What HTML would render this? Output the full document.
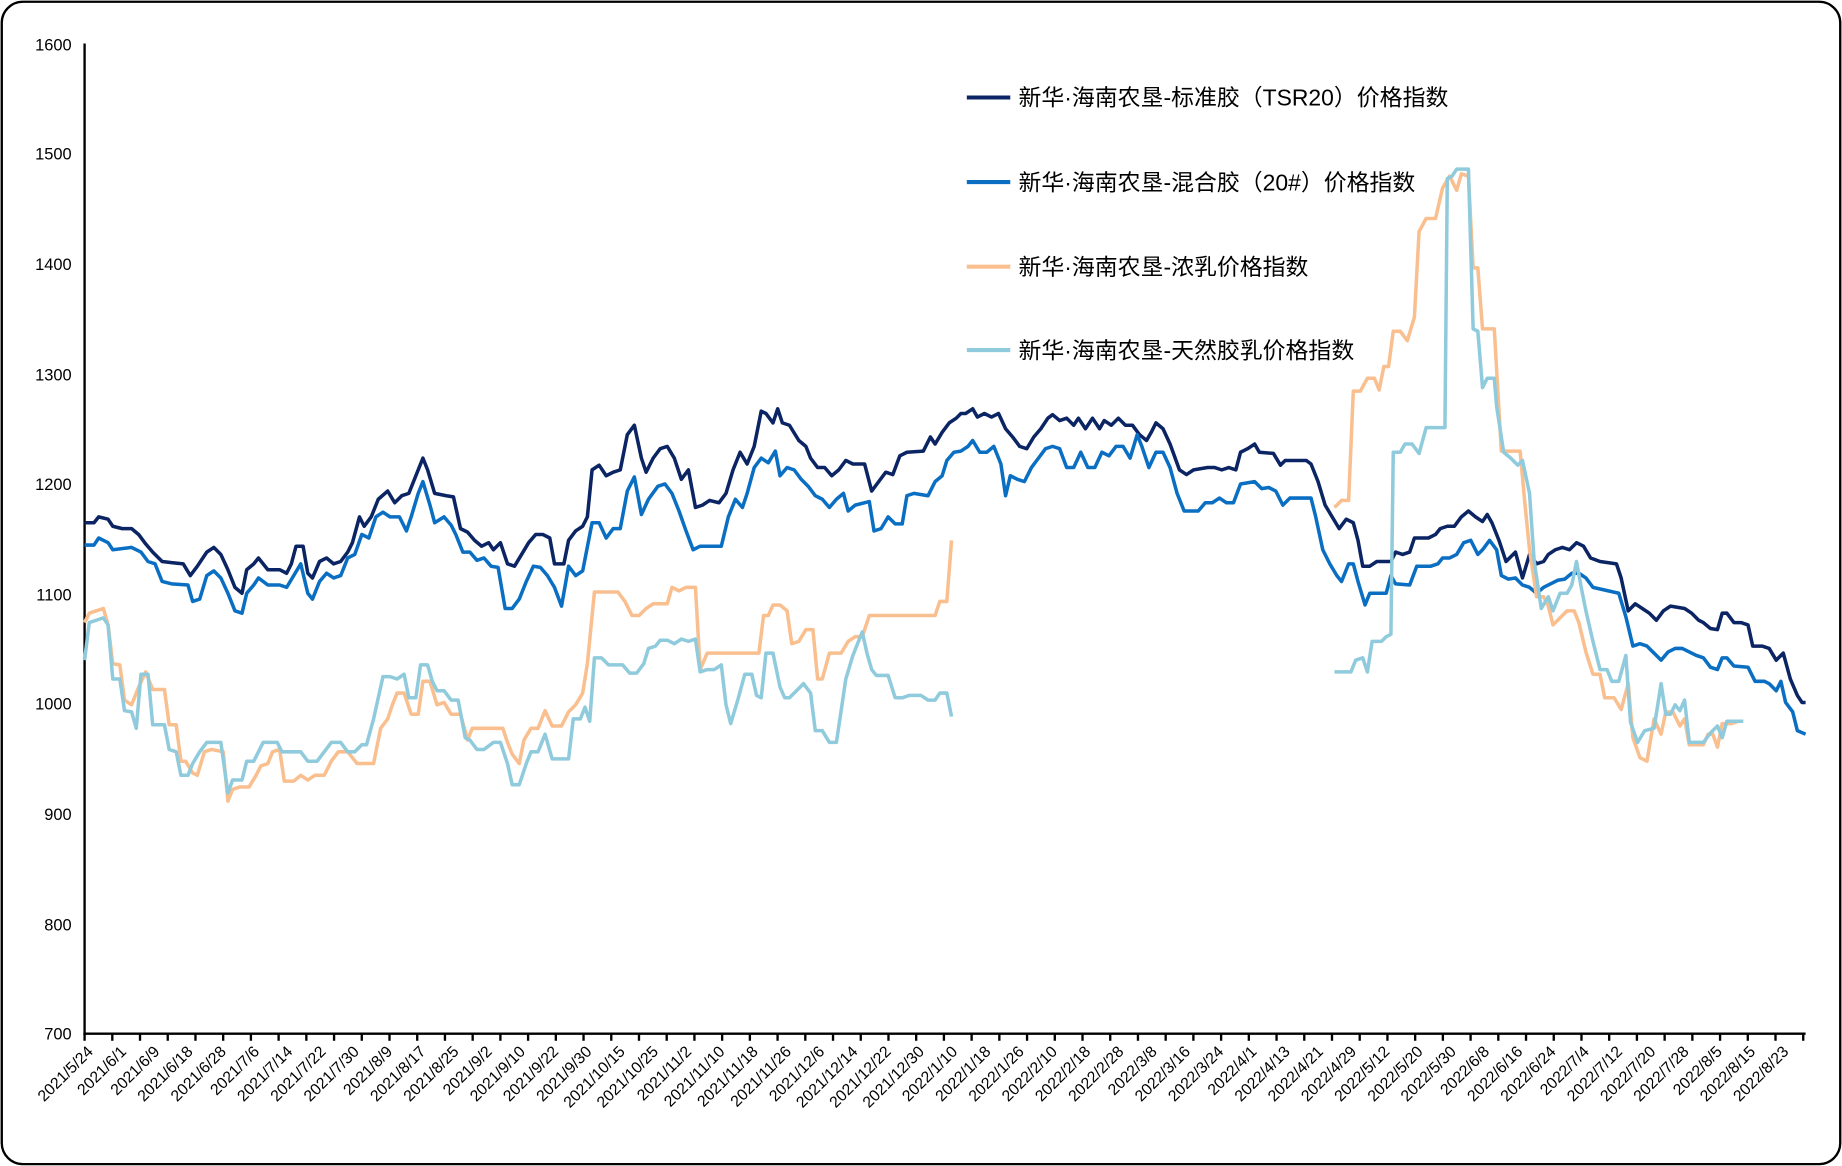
<!DOCTYPE html>
<html><head><meta charset="utf-8"><style>
html,body{margin:0;padding:0;background:#fff;}
svg{display:block;}
text{font-family:"Liberation Sans","Noto Sans CJK SC",sans-serif;fill:#000;}
</style></head><body>
<svg width="1842" height="1166" viewBox="0 0 1568 992.6" preserveAspectRatio="none" xmlns="http://www.w3.org/2000/svg">
<rect x="1.5" y="1.5" width="1565" height="989.5" rx="18" ry="18" fill="#fff" stroke="#000" stroke-width="2"/>
<g font-size="14" text-anchor="end">
<text x="61" y="43">1600</text><text x="61" y="136">1500</text><text x="61" y="230">1400</text>
<text x="61" y="324">1300</text><text x="61" y="417">1200</text><text x="61" y="511">1100</text>
<text x="61" y="604">1000</text><text x="61" y="698">900</text><text x="61" y="792">800</text><text x="61" y="885">700</text>
</g>
<line x1="72" y1="37" x2="72" y2="881" stroke="#000" stroke-width="2"/>
<line x1="71" y1="880" x2="1537" y2="880" stroke="#000" stroke-width="2"/>
<g id="ticks" stroke="#000" stroke-width="2"></g>
<g id="xl" font-size="13.5" text-anchor="end"></g>
<g fill="none" stroke-width="3" stroke-linejoin="round">
<polyline stroke="#0b2463" points="72,445 80,445 84,440 92,442 96,448 104,450 112,450 118,455 124,463 130,470 138,478 146,479 156,480 162,490 168,482 176,470 182,466 188,472 194,485 200,500 206,505 210,485 216,480 220,475 228,485 238,485 244,488 248,480 252,465 258,465 262,488 266,492 272,478 278,475 284,480 290,478 296,470 300,462 306,440 310,448 316,440 322,425 330,418 336,428 342,422 348,420 354,405 360,390 364,400 370,420 380,422 386,423 392,450 398,453 404,460 410,465 416,462 420,468 426,462 432,480 438,482 444,472 450,462 456,455 462,455 468,458 472,480 480,480 484,460 490,452 496,448 500,440 504,400 510,396 516,405 522,402 528,400 534,370 540,362 546,390 550,402 556,390 562,382 568,380 574,390 580,408 586,400 592,432 598,430 604,426 612,428 618,420 624,400 630,385 636,395 642,380 648,350 652,352 658,360 662,348 666,360 672,362 680,375 686,380 690,390 696,398 702,398 708,405 714,400 720,392 726,395 736,395 742,418 748,410 754,402 760,404 766,388 772,385 786,384 792,372 796,378 802,368 808,360 814,356 818,352 822,352 828,348 832,355 838,352 844,355 850,352 856,365 862,372 868,380 874,382 880,372 886,365 892,356 896,353 902,358 908,356 914,362 918,356 924,365 930,356 936,365 940,358 946,362 952,356 958,362 964,362 970,370 976,375 980,368 984,360 990,365 996,378 1004,400 1010,404 1016,400 1028,398 1034,398 1040,400 1046,398 1052,400 1056,385 1062,382 1068,378 1072,385 1084,386 1090,396 1094,392 1112,392 1116,395 1122,410 1128,430 1134,440 1140,450 1146,442 1152,445 1156,460 1160,482 1166,482 1172,478 1184,478 1188,470 1194,472 1200,470 1204,458 1216,458 1222,455 1226,450 1232,448 1238,448 1244,440 1250,435 1256,440 1262,444 1266,438 1270,445 1276,460 1282,478 1290,470 1296,492 1302,472 1308,480 1314,478 1318,472 1324,468 1330,466 1336,468 1342,462 1348,465 1354,475 1362,478 1376,480 1380,492 1386,520 1392,514 1398,518 1404,522 1410,528 1416,520 1422,516 1434,518 1440,522 1446,528 1450,530 1456,535 1462,536 1466,522 1470,522 1476,530 1482,530 1488,532 1492,550 1500,550 1506,552 1512,562 1518,556 1524,578 1530,592 1534,598 1537,598"/>
<polyline stroke="#0a6fc2" points="72,464 80,464 84,458 92,462 96,468 112,466 120,470 126,478 132,480 138,495 146,497 160,498 164,512 170,510 176,490 182,486 188,492 194,505 200,520 206,522 210,505 216,498 220,492 228,498 238,498 244,500 250,490 256,480 262,505 266,510 272,495 278,488 284,492 290,490 296,475 302,472 308,455 314,458 320,440 326,436 332,440 340,440 346,452 350,440 356,420 360,410 366,430 370,445 378,440 384,447 388,455 394,470 400,470 406,477 412,475 418,482 424,483 430,518 436,518 442,510 448,495 454,482 460,483 466,490 472,500 478,516 484,482 490,490 496,486 504,445 510,445 516,458 522,450 528,450 534,418 540,406 546,438 552,425 560,414 566,412 572,420 578,435 584,452 590,468 596,465 614,465 620,440 626,425 632,432 636,420 642,398 648,390 654,394 660,384 664,405 670,398 676,400 682,408 688,414 694,422 700,425 706,432 712,425 718,420 722,435 728,430 740,427 744,452 750,450 756,440 762,446 768,446 772,422 778,420 790,422 796,410 802,405 806,392 812,385 818,384 824,380 828,375 834,385 840,385 846,380 852,395 856,422 860,405 866,408 872,410 878,398 884,390 890,382 896,380 902,382 908,398 914,398 920,385 926,398 932,398 938,385 944,388 950,380 956,380 962,390 968,370 972,380 978,398 984,385 990,385 996,398 1002,420 1008,435 1020,435 1026,428 1032,428 1038,424 1044,428 1050,428 1056,412 1068,410 1074,416 1080,415 1086,418 1092,430 1098,424 1116,424 1120,440 1126,468 1132,480 1138,490 1142,495 1148,480 1152,480 1156,495 1162,515 1166,505 1180,505 1184,490 1188,497 1200,498 1206,482 1218,482 1224,480 1228,475 1234,475 1240,472 1246,462 1252,460 1258,472 1262,468 1268,460 1274,468 1278,490 1284,493 1290,492 1296,498 1302,500 1308,505 1314,500 1320,497 1326,494 1332,493 1338,488 1344,488 1350,492 1356,500 1378,505 1384,525 1390,550 1396,548 1402,550 1408,556 1414,562 1420,555 1426,552 1432,552 1438,555 1444,558 1450,560 1456,568 1462,570 1466,560 1470,560 1476,567 1488,568 1494,580 1502,580 1506,582 1512,588 1516,580 1520,598 1526,606 1530,622 1537,625"/>
<polyline stroke="#f9bf8f" points="72,530 76,522 82,520 88,518 92,532 96,565 102,566 106,596 112,600 118,585 124,572 130,587 140,587 144,617 150,617 154,648 158,648 164,658 168,660 174,640 180,638 190,640 194,682 198,672 204,670 212,670 218,660 222,652 228,650 232,640 238,638 242,665 250,665 256,660 262,664 268,660 276,660 282,648 288,640 296,640 300,645 304,650 318,650 324,620 330,612 334,600 338,590 344,590 350,608 356,608 360,580 366,580 372,600 378,598 384,608 392,608 398,630 402,620 428,620 432,632 436,642 442,650 446,630 452,620 458,620 464,605 470,618 478,618 484,606 490,600 496,590 500,565 506,504 526,504 532,512 538,524 544,524 550,518 556,514 568,514 572,500 578,503 584,500 592,500 596,570 602,556 646,556 650,524 654,524 658,515 664,515 670,520 674,548 680,546 686,536 692,536 696,578 700,578 706,556 716,556 722,546 728,542 734,542 740,524 796,524 800,512 806,512 810,460"/>
<polyline stroke="#f9bf8f" points="1136,432 1142,426 1148,426 1152,333 1158,333 1164,322 1170,322 1174,332 1178,312 1182,312 1186,282 1192,282 1198,290 1204,270 1208,197 1214,186 1222,186 1228,160 1234,150 1240,162 1244,148 1250,150 1254,228 1258,228 1262,280 1272,280 1278,384 1294,384 1298,428 1302,468 1308,508 1314,508 1318,516 1322,532 1326,528 1330,524 1334,520 1340,520 1344,530 1350,555 1356,574 1362,574 1366,594 1374,594 1380,604 1386,582 1390,628 1396,645 1402,648 1408,612 1414,625 1418,606 1424,606 1430,618 1434,612 1438,634 1450,634 1454,625 1458,625 1462,636 1466,616 1474,616 1480,614"/>
<polyline stroke="#8fcbdc" points="72,562 76,530 82,528 88,526 92,532 96,578 102,578 106,605 112,606 116,620 120,574 126,574 130,617 140,617 144,638 150,640 154,660 160,660 164,650 170,640 176,632 188,632 194,675 198,664 206,664 210,648 216,648 220,640 224,632 236,632 240,640 256,640 262,648 270,648 276,640 282,632 290,632 296,640 302,640 308,634 312,634 318,612 326,576 332,576 338,578 344,574 348,594 354,594 358,566 364,566 368,580 372,588 378,588 384,596 390,596 396,628 400,630 406,638 412,638 420,632 426,632 432,650 436,668 442,668 448,650 452,640 458,640 464,625 470,646 484,646 488,612 494,612 498,602 502,614 506,560 512,560 518,566 530,566 536,573 542,573 548,565 552,552 558,550 562,545 568,545 574,548 580,544 586,546 592,544 596,572 602,570 608,570 614,566 618,600 622,616 628,596 634,574 640,574 644,592 648,594 652,556 658,556 664,585 668,594 672,594 678,588 684,582 690,590 694,622 700,622 706,632 712,632 716,605 720,578 726,558 734,538 738,556 742,570 746,575 756,575 762,594 768,594 774,592 784,592 790,596 796,596 800,590 806,590 810,610"/>
<polyline stroke="#8fcbdc" points="1136,572 1150,572 1154,562 1160,560 1164,572 1168,546 1176,546 1180,542 1184,540 1186,385 1192,385 1196,378 1202,378 1208,386 1214,364 1230,364 1232,152 1236,150 1240,144 1250,144 1254,280 1258,282 1262,330 1266,322 1272,322 1274,346 1280,385 1286,390 1292,396 1296,392 1302,420 1306,478 1312,518 1318,508 1322,520 1328,505 1334,505 1338,498 1342,478 1346,500 1350,520 1356,546 1362,570 1368,570 1372,580 1378,580 1384,558 1388,615 1394,632 1400,622 1408,620 1414,582 1418,608 1422,608 1426,600 1430,605 1434,596 1438,632 1450,632 1456,624 1462,618 1466,628 1470,614 1484,614"/>
</g>
<g stroke-width="3.5">
<line x1="823" y1="83" x2="860" y2="83" stroke="#0b2463"/>
<line x1="823" y1="155" x2="860" y2="155" stroke="#0a6fc2"/>
<line x1="823" y1="227" x2="860" y2="227" stroke="#f9bf8f"/>
<line x1="823" y1="298" x2="860" y2="298" stroke="#8fcbdc"/>
</g>
<g font-size="19.5">
<text x="867" y="90">新华·海南农垦-标准胶（TSR20）价格指数</text>
<text x="867" y="162">新华·海南农垦-混合胶（20#）价格指数</text>
<text x="867" y="234">新华·海南农垦-浓乳价格指数</text>
<text x="867" y="305">新华·海南农垦-天然胶乳价格指数</text>
</g>
</svg>
<script>
var ns="http://www.w3.org/2000/svg";
var t=document.getElementById("ticks");
for(var i=0;i<=62;i++){var x=72+i*(1535-72)/62;var l=document.createElementNS(ns,"line");l.setAttribute("x1",x);l.setAttribute("x2",x);l.setAttribute("y1",880);l.setAttribute("y2",886);t.appendChild(l);}
var labs="2021/5/24,2021/6/1,2021/6/9,2021/6/18,2021/6/28,2021/7/6,2021/7/14,2021/7/22,2021/7/30,2021/8/9,2021/8/17,2021/8/25,2021/9/2,2021/9/10,2021/9/22,2021/9/30,2021/10/15,2021/10/25,2021/11/2,2021/11/10,2021/11/18,2021/11/26,2021/12/6,2021/12/14,2021/12/22,2021/12/30,2022/1/10,2022/1/18,2022/1/26,2022/2/10,2022/2/18,2022/2/28,2022/3/8,2022/3/16,2022/3/24,2022/4/1,2022/4/13,2022/4/21,2022/4/29,2022/5/12,2022/5/20,2022/5/30,2022/6/8,2022/6/16,2022/6/24,2022/7/4,2022/7/12,2022/7/20,2022/7/28,2022/8/5,2022/8/15,2022/8/23".split(",");
var g=document.getElementById("xl");
for(var j=0;j<labs.length;j++){var x=80+j*28.3;var y=896;var e=document.createElementNS(ns,"text");e.setAttribute("transform","translate("+x+","+y+") rotate(-45)");e.textContent=labs[j];g.appendChild(e);}
</script>
</body></html>
